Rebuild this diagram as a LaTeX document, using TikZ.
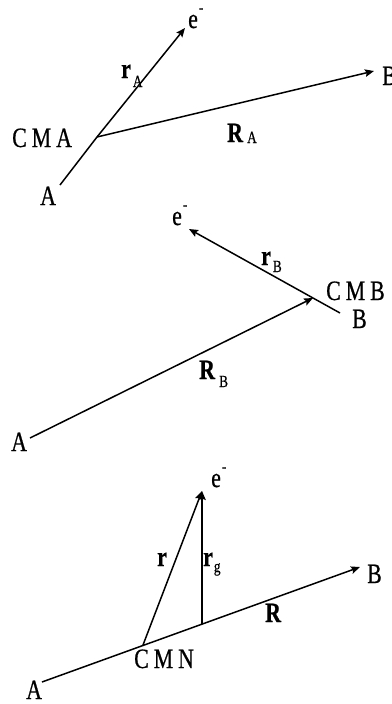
\documentclass[tikz,border=0pt]{standalone}
\usepackage{fontspec}
\setmainfont{Liberation Serif}[FakeStretch=0.78,FakeBold=0.6]
\usetikzlibrary{arrows.meta}
\newcommand{\subsz}{\fontsize{17}{17}\selectfont}
\newcommand{\lblsz}{\fontsize{28}{30}\selectfont}
\newcommand{\mysub}[3]{\kern#1pt\raisebox{-#2pt}{\subsz #3}}
\newcommand{\elec}{e\kern1pt\raisebox{15pt}{\subsz -}}
\newcommand{\spaced}[3]{#1\kern5pt #2\kern5pt #3}
\begin{document}
\begin{tikzpicture}[x=1pt,y=-1pt,
  lbl/.style={inner sep=0pt,anchor=base west,font=\lblsz},
  vec/.style={line width=1.5pt,-{Stealth[length=9pt,width=7.5pt,inset=1.5pt]}},
  seg/.style={line width=1.5pt}]
\useasboundingbox (0,0) rectangle (391,704);
% ---------- panel 1 ----------
\coordinate (a1) at (60,185);
\coordinate (cma) at (97,137);
\coordinate (e1) at (185,28);
\coordinate (b1) at (374,71);
\draw[seg] (a1) -- (cma);
\draw[vec] (cma) -- (e1);
\draw[vec] (cma) -- (b1);
\node[lbl] (le1) at (188,28) {\elec};
\node[lbl] (lra) at (121,78) {\textbf{r}\mysub{2}{9}{A}};
\node[lbl] (lcma) at (12,147) {\spaced CMA};
\node[lbl] (la1) at (40,205) {A};
\node[lbl] (lRa) at (227,142) {\textbf{R}\mysub{4}{1}{A}};
\node[lbl] (lb1) at (382,85) {B};
% ---------- panel 2 ----------
\coordinate (bend) at (340,313);
\coordinate (cmb) at (313,298);
\coordinate (e2) at (189,229);
\coordinate (a2) at (30,438);
\draw[seg] (bend) -- (cmb);
\draw[vec] (cmb) -- (e2);
\draw[vec] (a2) -- (cmb);
\node[lbl] (le2) at (172,225) {\elec};
\node[lbl] (lrb) at (261,265) {\textbf{r}\mysub{2}{7}{B}};
\node[lbl] (lcmb) at (326,300) {\spaced CMB};
\node[lbl] (lb2) at (352,328) {B};
\node[lbl] (lRb) at (199,379) {\textbf{R}\mysub{4}{8}{B}};
\node[lbl] (la2) at (11,451) {A};
% ---------- panel 3 ----------
\coordinate (a3) at (42,682);
\coordinate (b3) at (360,567);
\coordinate (cmn) at (143,645);
\coordinate (g3) at (202,623.5);
\coordinate (e3) at (202,491);
\draw[vec] (a3) -- (b3);
\draw[vec] (cmn) -- (e3);
\draw[vec] (g3) -- (e3);
\node[lbl] (le3) at (211,487) {\elec};
\node[lbl] (lr) at (157,566) {\textbf{r}};
\node[lbl] (lrg) at (203,566) {\textbf{r}\mysub{1}{6}{g}};
\node[lbl] (lR) at (265,622) {\textbf{R}};
\node[lbl] (lcmn) at (134,668) {\spaced CMN};
\node[lbl] (la3) at (26,699) {A};
\node[lbl] (lb3) at (367,583) {B};
\end{tikzpicture}
\end{document}
